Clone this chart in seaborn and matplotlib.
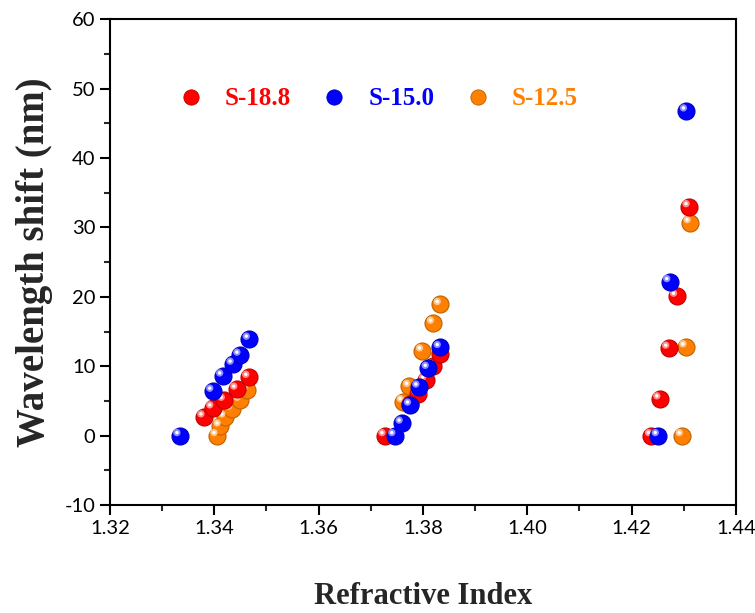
import numpy as np
import pandas as pd
import matplotlib
matplotlib.use("Agg")
import matplotlib.pyplot as plt
import matplotlib.transforms as mtransforms
from matplotlib.lines import Line2D
import seaborn as sns

# ---- data ----
series_names = ["S-18.8", "S-15.0", "S-12.5"]
series_colors = ["#ff0000", "#0000ff", "#ff8000"]

ri_s188 = [1.3380, 1.3397, 1.3419, 1.3443, 1.3466,
           1.3727, 1.3775, 1.3790, 1.3805, 1.3820, 1.3833,
           1.4238, 1.4254, 1.4271, 1.4286, 1.4310]
shift_s188 = [2.7, 4.0, 5.1, 6.7, 8.4,
              0.0, 4.5, 6.0, 8.0, 10.0, 11.8,
              0.0, 5.3, 12.6, 20.1, 33.0]

ri_s150 = [1.3334, 1.3397, 1.3416, 1.3436, 1.3449, 1.3467,
           1.3746, 1.3760, 1.3776, 1.3792, 1.3810, 1.3833,
           1.4251, 1.4273, 1.4305]
shift_s150 = [0.0, 6.4, 8.6, 10.3, 11.6, 13.9,
              0.0, 1.8, 4.4, 7.0, 9.7, 12.7,
              0.0, 22.2, 46.8]

ri_s125 = [1.3405, 1.3411, 1.3420, 1.3433, 1.3449, 1.3463,
           1.3762, 1.3774, 1.3799, 1.3820, 1.3833,
           1.4297, 1.4304, 1.4312]
shift_s125 = [0.0, 1.4, 2.7, 3.8, 5.1, 6.6,
              4.9, 7.1, 12.2, 16.2, 18.9,
              0.0, 12.8, 30.7]

x_ticks = [1.32, 1.34, 1.36, 1.38, 1.40, 1.42, 1.44]
y_ticks = [-10, 0, 10, 20, 30, 40, 50, 60]

frames = []
for name, xs, ys in [("S-12.5", ri_s125, shift_s125),
                     ("S-18.8", ri_s188, shift_s188),
                     ("S-15.0", ri_s150, shift_s150)]:
    frames.append(pd.DataFrame({"ri": xs, "shift": ys, "series": name}))
df = pd.concat(frames, ignore_index=True)
palette = dict(zip(series_names, series_colors))

sns.set_theme(style="ticks")
plt.rcParams["font.family"] = ["Lato", "DejaVu Sans"]

fig = plt.figure(figsize=(7.55, 6.13), dpi=100)
ax = fig.add_axes([0.1457, 0.1762, 0.8291, 0.7923])

def darker(c, f=0.75):
    r, g, b = matplotlib.colors.to_rgb(c)
    return (r * f, g * f, b * f)

def lighter(c, f=0.6):
    r, g, b = matplotlib.colors.to_rgb(c)
    return (r + (1 - r) * f, g + (1 - g) * f, b + (1 - b) * f)

hl_offset = mtransforms.offset_copy(ax.transData, fig=fig, x=-3, y=3, units="dots")
for name in ["S-12.5", "S-18.8", "S-15.0"]:
    sub = df[df["series"] == name]
    col = palette[name]
    sns.scatterplot(data=sub, x="ri", y="shift", ax=ax, color=col, s=150,
                    edgecolor=darker(col), linewidth=0.8, legend=False, zorder=3)
    ax.scatter(sub["ri"], sub["shift"], s=28, color=lighter(col, 0.55),
               edgecolor="none", transform=hl_offset, zorder=3)
    ax.scatter(sub["ri"], sub["shift"], s=6, color="white",
               edgecolor="none", transform=hl_offset, zorder=3)

ax.set_xlim(1.32, 1.44)
ax.set_ylim(-10, 60)
ax.set_xticks(x_ticks)
ax.set_xticklabels([f"{v:.2f}" for v in x_ticks])
ax.set_yticks(y_ticks)
ax.set_yticklabels([str(v) for v in y_ticks])
ax.xaxis.set_minor_locator(matplotlib.ticker.MultipleLocator(0.01))
ax.yaxis.set_minor_locator(matplotlib.ticker.MultipleLocator(5))
ax.tick_params(axis="both", which="major", direction="out", length=7, width=1.5,
               labelsize=14.5, colors="black", top=False, right=False)
ax.tick_params(axis="both", which="minor", direction="out", length=4, width=1.5,
               top=False, right=False)
for sp in ax.spines.values():
    sp.set_linewidth(1.5)
    sp.set_color("black")

ax.set_xlabel("Refractive Index", family=["Liberation Serif"], fontweight="bold",
              fontsize=22, labelpad=33)
ax.set_ylabel("Wavelength shift (nm)", family=["Liberation Serif"], fontweight="bold",
              fontsize=28, labelpad=8)

handles = [Line2D([0], [0], marker="o", linestyle="none", markersize=11,
                  markerfacecolor=c, markeredgecolor=darker(c), markeredgewidth=0.6)
           for c in series_colors]
leg = ax.legend(handles, series_names, loc="upper left", bbox_to_anchor=(0.053, 0.906),
                ncol=3, frameon=False, handletextpad=0.35, columnspacing=0.75,
                prop={"family": "Liberation Serif", "weight": "bold", "size": 18})
for t, c in zip(leg.get_texts(), series_colors):
    t.set_color(c)

fig.savefig("out.png", dpi=100)
